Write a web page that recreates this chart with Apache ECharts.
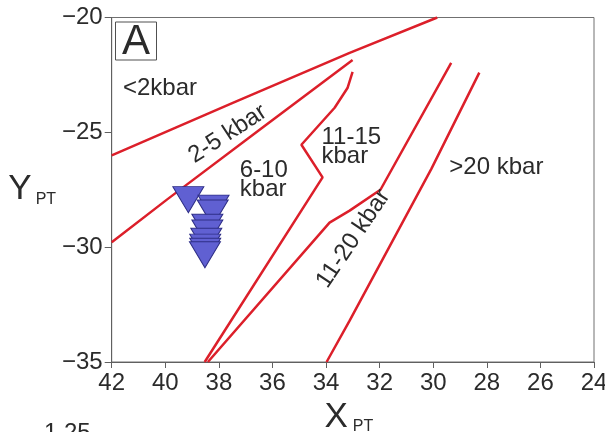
<!DOCTYPE html>
<html>
<head>
<meta charset="utf-8">
<script src="https://cdn.jsdelivr.net/npm/echarts@6/dist/echarts.min.js"></script>
<style>
  html, body { margin: 0; padding: 0; background: #fff; }
  #chart { width: 605px; height: 432px; }
</style>
</head>
<body>
<div id="chart"></div>
<script>
// Axis ranges and tick steps
const xMin = 24, xMax = 42, xStep = 2;
const yMin = -35, yMax = -20, yStep = 5;

// Pressure-field boundaries, [X_PT, Y_PT] vertices
const boundaryLow = [[42, -26.0], [37.48, -23.72], [33.12, -21.54], [29.85, -20]];
const boundary25 = [[42, -29.79], [39.94, -27.93], [36.48, -24.89], [33.01, -21.85]];
const boundary610 = [[38.53, -35], [34.13, -26.96], [34.92, -25.54], [33.68, -23.93], [33.20, -23.07], [33.01, -22.37]];
const boundary1115 = [[38.41, -35], [33.87, -28.93], [33.12, -28.41], [31.97, -27.5], [29.33, -21.98]];
const boundary20 = [[33.98, -35], [33.12, -33.2], [30.07, -26.59], [28.28, -22.4]];

// Samples
const sampleX = [39.14, 38.20, 38.23, 38.43, 38.43, 38.47, 38.51, 38.51, 38.52];
const sampleY = [-27.93, -28.30, -28.51, -29.13, -29.38, -29.74, -30.00, -30.18, -30.33];

// Field labels and their anchors
const fieldNames = ['<2kbar', '2-5 kbar', '6-10\nkbar', '11-15\nkbar', '>20 kbar', '11-20 kbar'];
const fieldX = [41.58, 37.67, 37.22, 34.17, 29.40, 32.98];
const fieldY = [-23.09, -25.07, -27.07, -25.63, -26.52, -29.63];
const fieldRotate = [0, 33, 0, 0, 0, 56];
const fieldAlign = ['left', 'center', 'left', 'left', 'left', 'center'];

const FONT = '"Liberation Sans", Arial, sans-serif';
const RED = '#dc1f2a';
const INK = '#2b2b2b';

const chart = echarts.init(document.getElementById('chart'), null, { renderer: 'canvas' });

const boundaries = [boundaryLow, boundary25, boundary610, boundary1115, boundary20];
const lineSeries = boundaries.map(pts => ({
  type: 'line',
  data: pts,
  showSymbol: false,
  symbol: 'none',
  smooth: false,
  lineStyle: { color: RED, width: 2.5, opacity: 1 },
  z: 2,
  silent: true
}));

const option = {
  animation: false,
  backgroundColor: '#fff',
  grid: {
    left: 111.7, top: 17.5, right: 11, bottom: 70,
    show: true, borderColor: '#707070', borderWidth: 1,
    backgroundColor: 'transparent',
    containLabel: false,
    outerBoundsMode: 'none'
  },
  xAxis: {
    type: 'value', inverse: true,
    min: xMin, max: xMax, interval: xStep,
    splitLine: { show: false },
    axisLine: { lineStyle: { color: '#606060', width: 1 } },
    axisTick: { show: true, inside: false, length: 6, lineStyle: { color: '#606060' } },
    axisLabel: { fontFamily: FONT, fontSize: 24, color: INK, margin: 9,
      showMinLabel: true, showMaxLabel: true },
    name: '{a|X}{b|PT}',
    nameLocation: 'middle',
    nameGap: 35,
    nameTextStyle: {
      rich: {
        a: { fontFamily: FONT, fontSize: 35, color: INK, verticalAlign: 'bottom' },
        b: { fontFamily: FONT, fontSize: 16, color: INK, verticalAlign: 'bottom', padding: [0, 8, 0, 5] }
      }
    }
  },
  yAxis: {
    type: 'value',
    min: yMin, max: yMax, interval: yStep,
    splitLine: { show: false },
    axisLine: { lineStyle: { color: '#606060', width: 1 } },
    axisTick: { show: true, inside: false, length: 7, lineStyle: { color: '#606060' } },
    axisLabel: { fontFamily: FONT, fontSize: 24, color: INK, margin: 9,
      formatter: v => String(v).replace('-', '\u2212') },
    name: '{a|Y}{b|PT}',
    nameLocation: 'middle',
    nameRotate: 0,
    nameGap: 47,
    nameTextStyle: {
      align: 'right',
      rich: {
        a: { fontFamily: FONT, fontSize: 35, color: INK, verticalAlign: 'bottom' },
        b: { fontFamily: FONT, fontSize: 16, color: INK, verticalAlign: 'bottom', padding: [0, 0, 0, 4] }
      }
    }
  },
  series: [
    ...lineSeries,
    {
      type: 'scatter',
      data: sampleX.map((x, i) => [x, sampleY[i]]),
      symbol: 'triangle',
      symbolRotate: 180,
      symbolSize: [31, 26],
      itemStyle: { color: '#6060d2', borderColor: '#2e2e86', borderWidth: 1, opacity: 1 },
      z: 3,
      silent: true
    },
    {
      type: 'scatter',
      symbolSize: 0,
      silent: true,
      z: 4,
      itemStyle: { opacity: 1 },
      data: fieldNames.map((n, i) => ({
        name: n,
        value: [fieldX[i], fieldY[i]],
        label: { rotate: fieldRotate[i], align: fieldAlign[i] }
      })),
      label: {
        show: true,
        position: 'inside',
        formatter: p => p.name,
        fontFamily: FONT,
        fontSize: 24,
        lineHeight: 19,
        color: INK,
        opacity: 1,
        verticalAlign: 'middle'
      }
    }
  ],
  graphic: [
    {
      type: 'group', left: 115, top: 21,
      children: [
        { type: 'rect', shape: { x: 0, y: 0, width: 41, height: 38 },
          style: { fill: '#fff', stroke: '#505050', lineWidth: 1 } },
        { type: 'text', x: 20.5, y: 20,
          style: { text: 'A', font: '42px ' + FONT, fill: INK,
            textAlign: 'center', textVerticalAlign: 'middle' } }
      ]
    },
    {
      type: 'text', left: 44, top: 421,
      style: { text: '1.25', font: '24px ' + FONT, fill: INK }
    }
  ]
};

chart.setOption(option);
</script>
</body>
</html>
